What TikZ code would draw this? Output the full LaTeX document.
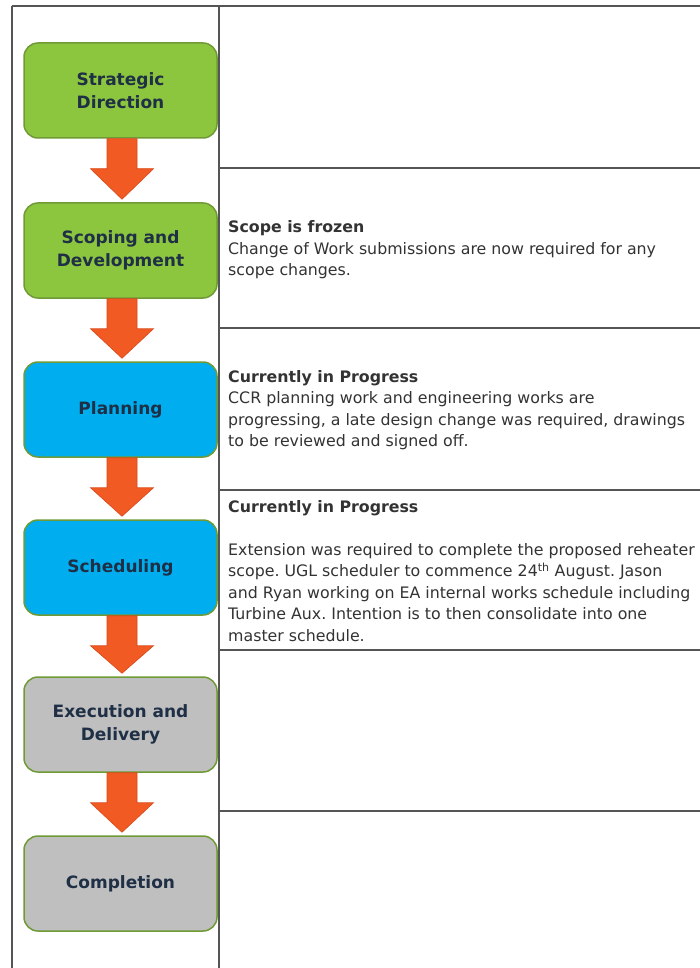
\documentclass[tikz,border=0pt]{standalone}
\usepackage{fontspec}
\setmainfont{DejaVu Sans}
\frenchspacing
\usetikzlibrary{calc}
\definecolor{stgreen}{HTML}{8CC63F}
\definecolor{stblue}{HTML}{00AEEF}
\definecolor{stgray}{HTML}{BFBFBF}
\definecolor{stborder}{HTML}{6F9A35}
\definecolor{arrfill}{HTML}{F15A22}
\definecolor{arrdraw}{HTML}{D9481A}
\definecolor{gridline}{HTML}{555555}
\definecolor{stagetext}{HTML}{1F2F45}
\definecolor{bodytext}{HTML}{333333}
\tikzset{
  stage/.style={draw=stborder, line width=1.5pt, rounded corners=14pt,
    minimum width=193pt, minimum height=95pt, align=center, inner sep=0pt,
    text=stagetext, font=\fontsize{17pt}{23pt}\selectfont\bfseries},
  flowarrow/.style={fill=arrfill, draw=arrdraw, line width=0.6pt, line join=miter},
  grid/.style={draw=gridline, line width=1.5pt},
  note/.style={anchor=west, align=left, inner sep=0pt, text=bodytext,
    font=\fontsize{15.8pt}{21.5pt}\selectfont}
}
\begin{document}
\begin{tikzpicture}[x=1pt,y=-1pt]
\useasboundingbox[fill=white] (0,0) rectangle (700,968);
% table grid
\draw[grid] (12,6) -- (700,6);
\draw[grid] (12,6) -- (12,968);
\draw[grid] (219,6) -- (219,968);
\foreach \yy in {168,328,490,650,811} \draw[grid] (219,\yy) -- (700,\yy);
% stages
\node[stage, fill=stgreen] (s1) at (120.5,90.5) {Strategic\\Direction};
\node[stage, fill=stgreen] (s2) at (120.5,250.5) {Scoping and\\Development};
\node[stage, fill=stblue] (s3) at (120.5,409.5) {Planning};
\node[stage, fill=stblue] (s4) at (120.5,567.5) {Scheduling};
\node[stage, fill=stgray] (s5) at (120.5,724.5) {Execution and\\Delivery};
\node[stage, fill=stgray] (s6) at (120.5,883.5) {Completion};
% arrows
\foreach \a/\b in {s1/s2,s2/s3,s3/s4,s4/s5,s5/s6}{
  \draw[flowarrow] ($(\a.south)+(0,0)$) ++(-13.5,0) coordinate (p1)
    -- ($(p1)+(0,30)$) -- ($(p1)+(-16.5,30)$) -- ($(\b.north)+(1.5,-3)$)
    -- ($(p1)+(46.5,30)$) -- ($(p1)+(30,30)$) -- ($(p1)+(30,0)$) -- cycle;
}
% notes
\node[note] (n2) at (228,250) {\textbf{Scope is frozen}\\Change of Work submissions are now required for any\\scope changes.};
\node[note] (n3) at (228,410) {\textbf{Currently in Progress}\\CCR planning work and engineering works are\\progressing, a late design change was required, drawings\\to be reviewed and signed off.};
\node[note] (n4) at (228,571) {\textbf{Currently in Progress}\\[21.5pt]Extension was required to complete the proposed reheater\\scope. UGL scheduler to commence 24\textsuperscript{th} August. Jason\\and Ryan working on EA internal works schedule including\\Turbine Aux. Intention is to then consolidate into one\\master schedule.};
\end{tikzpicture}
\end{document}
